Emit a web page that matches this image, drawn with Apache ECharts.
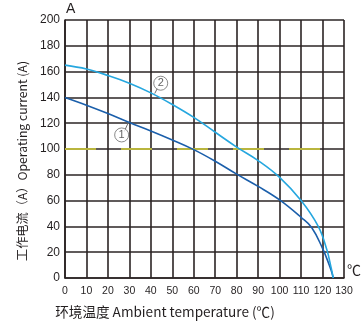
<!DOCTYPE html>
<html lang="en">
<head>
    <meta charset="UTF-8">
    <title>echarts</title>
    <script src="https://cdn.jsdelivr.net/npm/echarts/dist/echarts.min.js"></script>
</head>
<body style="margin:0;background:#fff;">
<div id="main" style="width: 363px;height:324px;"></div>
<script type="text/javascript">
    // curve ① (dark blue)
    var temp1 = [0, 10, 20, 30, 40, 50, 60, 70, 80, 90, 100, 110, 115, 120, 122, 124, 125];
    var curr1 = [140, 134, 127.5, 120.5, 114, 107, 99.5, 90.5, 80.5, 71, 60.5, 47, 39, 23, 15, 6, 0];
    // curve ② (light blue)
    var temp2 = [0, 10, 20, 30, 40, 50, 60, 70, 80, 90, 100, 110, 118, 122, 124, 125];
    var curr2 = [165, 162, 157, 151, 143.5, 134.5, 124.5, 113, 101.5, 91, 78, 60, 40, 22, 8, 0];
    // reference level
    var refLine = [[0, 100], [130, 100]];
    // label markers and their leaders
    var tag1 = [26.4, 110.9], lead1 = [[27.6, 113.5], [29.5, 120.5]];
    var tag2 = [44.6, 151], lead2 = [[43.2, 147.5], [41.8, 143]];
    var xTicks = [0, 130, 10];
    var yTicks = [0, 200, 20];

    function zip(a, b) {
        return a.map(function (v, i) { return [v, b[i]]; });
    }

    var chart = echarts.init(document.getElementById('main'));
    var gridLine = { color: '#2b2424', width: 1.6 };
    var nameFont = { fill: '#231f20', fontFamily: 'Noto Sans CJK SC', align: 'center', verticalAlign: 'middle' };
    var option = {
        animation: false,
        textStyle: { fontFamily: 'Liberation Sans' },
        grid: { left: 65, right: 19, top: 20, bottom: 46 },
        xAxis: {
            type: 'value', min: xTicks[0], max: xTicks[1], interval: xTicks[2],
            axisLine: { lineStyle: gridLine },
            axisTick: { show: false },
            splitLine: { lineStyle: gridLine },
            axisLabel: { fontSize: 10.5, color: '#231f20', margin: 8 }
        },
        yAxis: {
            type: 'value', min: yTicks[0], max: yTicks[1], interval: yTicks[2],
            axisLine: { lineStyle: gridLine },
            axisTick: { show: false },
            splitLine: { lineStyle: gridLine },
            axisLabel: { fontSize: 12, color: '#231f20', margin: 5 }
        },
        graphic: [
            { type: 'text', left: 66, top: 2, style: { text: 'A', fontSize: 14, fill: '#231f20', fontFamily: 'Liberation Sans' } },
            { type: 'text', left: 347, top: 263, style: { text: '℃', fontSize: 14, fill: '#231f20', fontFamily: 'Noto Sans CJK SC' } },
            { type: 'text', x: 165, y: 312, style: Object.assign({ text: '环境温度 Ambient temperature (℃)', fontSize: 13.6 }, nameFont) },
            { type: 'text', x: 22, y: 161, rotation: Math.PI / 2, style: Object.assign({ text: '工作电流（A）Operating current (A)', fontSize: 12.2 }, nameFont) }
        ],
        series: [
            {
                type: 'line', data: refLine, symbol: 'none', silent: true,
                lineStyle: { color: '#b9b53e', width: 2, type: [31, 25] }
            },
            {
                type: 'line', data: zip(temp1, curr1), symbol: 'none', smooth: 0.4,
                lineStyle: { color: '#1b5fab', width: 1.6 }
            },
            {
                type: 'line', data: zip(temp2, curr2), symbol: 'none', smooth: 0.4,
                lineStyle: { color: '#26a7df', width: 1.6 }
            },
            {
                type: 'line', data: lead1, symbol: 'none',
                lineStyle: { color: '#6d6d6d', width: 1 }
            },
            {
                type: 'line', data: lead2, symbol: 'none',
                lineStyle: { color: '#6d6d6d', width: 1 }
            },
            {
                type: 'scatter', data: [tag1, tag2], symbol: 'circle', symbolSize: 14,
                itemStyle: { color: '#fff', borderColor: '#6d6d6d', borderWidth: 1 },
                label: {
                    show: true, position: 'inside', fontSize: 11, color: '#3a3a3a',
                    formatter: function (p) { return p.dataIndex === 0 ? '1' : '2'; }
                },
                z: 5
            }
        ]
    };
    chart.setOption(option);
</script>
</body>
</html>
